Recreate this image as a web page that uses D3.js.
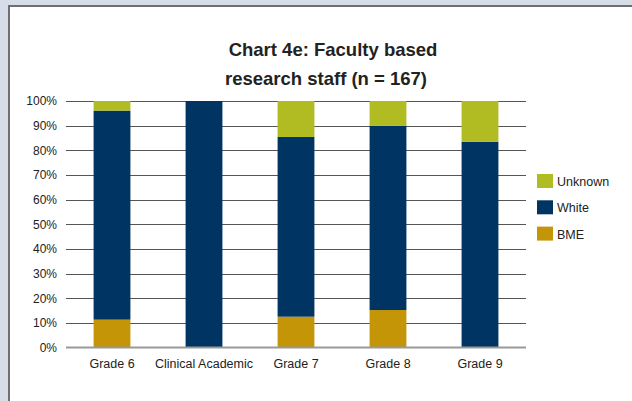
<!DOCTYPE html>
<html>
<head>
<meta charset="utf-8">
<script src="https://cdn.jsdelivr.net/npm/d3@7"></script>
<style>
  body { margin: 0; background: #d6dce8; }
  svg { display: block; font-family: "Liberation Sans", Arial, sans-serif; }
</style>
</head>
<body>
<svg id="chart" width="632" height="401"></svg>
<script>
var categories = ['Grade 6', 'Clinical Academic', 'Grade 7', 'Grade 8', 'Grade 9'];
var seriesNames = ['BME', 'White', 'Unknown'];
var bme = [11.3, 0, 12.5, 15.2, 0];
var white = [84.8, 100, 72.9, 74.8, 83.5];
var unknown = [3.9, 0, 14.6, 10.0, 16.5];
var yTicks = [0, 10, 20, 30, 40, 50, 60, 70, 80, 90, 100];
var colors = ['#c59508', '#003462', '#b0bc22'];

var svg = d3.select('#chart');

// white panel with dark left/top border
svg.append('rect')
    .attr('x', 9).attr('y', 6)
    .attr('width', 640).attr('height', 410)
    .attr('fill', '#fff')
    .attr('stroke', '#6e6e6e')
    .attr('stroke-width', 2);

var plotLeft = 66, plotRight = 526, plotTop = 101, plotBottom = 347.5;

var x = d3.scaleBand().domain(categories).range([plotLeft, plotRight]).paddingInner(0.6).paddingOuter(0.3);
var y = d3.scaleLinear().domain([0, 100]).range([plotBottom, plotTop]);

// title
svg.append('text')
    .attr('x', 333).attr('y', 56)
    .attr('text-anchor', 'middle')
    .attr('font-size', 18.5).attr('font-weight', 'bold').attr('fill', '#222')
    .text('Chart 4e: Faculty based');
svg.append('text')
    .attr('x', 326).attr('y', 85)
    .attr('text-anchor', 'middle')
    .attr('font-size', 18.5).attr('font-weight', 'bold').attr('fill', '#222')
    .text('research staff (n = 167)');

// gridlines
svg.append('g').selectAll('line')
    .data(yTicks.filter(function(d) { return d > 0; }))
    .enter().append('line')
    .attr('x1', plotLeft).attr('x2', plotRight)
    .attr('y1', function(d) { return Math.round(y(d)) + 0.5; })
    .attr('y2', function(d) { return Math.round(y(d)) + 0.5; })
    .attr('stroke', '#555').attr('stroke-width', 1.2);

// y axis labels
var yAxis = d3.axisLeft(y).tickValues(yTicks).tickSize(0).tickPadding(9)
    .tickFormat(function(d) { return d + '%'; });
var yg = svg.append('g').attr('transform', 'translate(' + plotLeft + ',0)').call(yAxis);
yg.select('.domain').remove();
yg.selectAll('text').attr('font-size', 12).attr('fill', '#222')
    .attr('font-family', '"Liberation Sans", Arial, sans-serif');

// stacked bars
var rows = categories.map(function(c, i) {
    return { cat: c, BME: bme[i], White: white[i], Unknown: unknown[i] };
});
var stack = d3.stack().keys(seriesNames)(rows);

svg.append('g').selectAll('g')
    .data(stack)
    .enter().append('g')
    .attr('fill', function(d, i) { return colors[i]; })
    .selectAll('rect')
    .data(function(d) { return d; })
    .enter().append('rect')
    .attr('x', function(d) { return x(d.data.cat); })
    .attr('width', x.bandwidth())
    .attr('y', function(d) { return y(d[1]); })
    .attr('height', function(d) { return y(d[0]) - y(d[1]); });

// baseline
svg.append('line')
    .attr('x1', plotLeft).attr('x2', plotRight)
    .attr('y1', plotBottom).attr('y2', plotBottom)
    .attr('stroke', '#999').attr('stroke-width', 2);

// x axis labels
var xAxis = d3.axisBottom(x).tickSize(0).tickPadding(12);
var xg = svg.append('g').attr('transform', 'translate(0,' + plotBottom + ')').call(xAxis);
xg.select('.domain').remove();
xg.selectAll('text').attr('font-size', 12.5).attr('fill', '#222')
    .attr('font-family', '"Liberation Sans", Arial, sans-serif');

// legend
var legendItems = ['Unknown', 'White', 'BME'];
var legend = svg.append('g').selectAll('g')
    .data(legendItems)
    .enter().append('g')
    .attr('transform', function(d, i) { return 'translate(537,' + (174 + i * 26.3) + ')'; });
legend.append('rect')
    .attr('width', 16).attr('height', 14)
    .attr('fill', function(d) { return colors[seriesNames.indexOf(d)]; });
legend.append('text')
    .attr('x', 20).attr('y', 12)
    .attr('font-size', 12.5).attr('fill', '#222')
    .text(function(d) { return d; });
</script>
</body>
</html>
